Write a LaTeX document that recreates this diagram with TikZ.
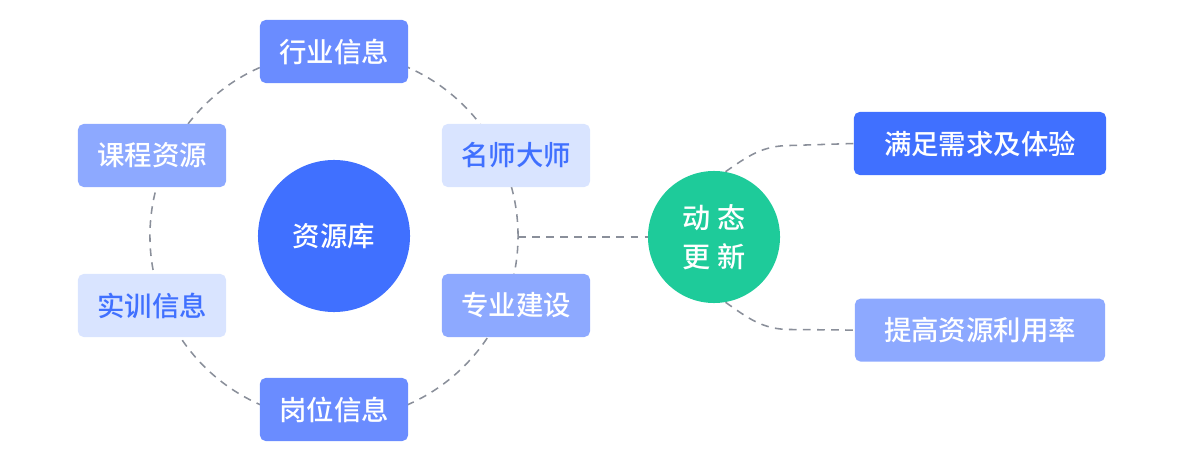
\documentclass[tikz,border=0pt]{standalone}
\usepackage{fontspec}
\setmainfont{Noto Sans CJK SC Medium}
\usetikzlibrary{positioning}
\definecolor{resBlue}{HTML}{4070FF}
\definecolor{resMain}{HTML}{6A8CFF}
\definecolor{resMid}{HTML}{8DA9FF}
\definecolor{resPale}{HTML}{D9E4FF}
\definecolor{resGreen}{HTML}{1ECB9A}
\definecolor{resLine}{HTML}{8A8F9A}

\begin{document}
\begin{tikzpicture}[
    x=0.025cm, y=-0.025cm,
    tag/.style={rectangle, rounded corners=4pt, minimum width=3.7cm,
                minimum height=1.575cm, inner sep=0pt, text=white,
                font=\fontsize{19.5}{23}\selectfont},
    tagmain/.style={tag, fill=resMain},
    tagmid/.style={tag, fill=resMid},
    tagpale/.style={tag, fill=resPale, text=resBlue},
    hubdot/.style={circle, fill=resBlue, text=white, minimum size=3.8cm,
                   inner sep=0pt, font=\fontsize{19.5}{23}\selectfont},
    dyndot/.style={circle, fill=resGreen, text=white, minimum size=3.3cm,
                   inner sep=0pt, align=center, font=\fontsize{20}{28}\selectfont},
    link/.style={draw=resLine, line width=1.1pt, dash pattern=on 5.5pt off 4.5pt},
  ]
    \useasboundingbox (0,0) rectangle (1184,472);

    % ring of resources
    \draw[link] (334,236) circle[radius=4.6cm];
    \node[hubdot] (hub) at (334,236) {资源库};

    \node[tagmain] (trade) at (334,51.5)  {行业信息};
    \node[tagmid]  (course) at (152,155.5) {课程资源};
    \node[tagpale] (master) at (516,155.5) {名师大师};
    \node[tagpale] (train) at (152,305.5) {实训信息};
    \node[tagmid]  (major) at (516,305.5) {专业建设};
    \node[tagmain] (post) at (334,409.5) {岗位信息};

    % dynamic update
    \node[dyndot] (dyn) at (714,237) {动\hspace{0.22em}态\\更\hspace{0.22em}新};
    \coordinate (ringE) at (518,237);
    \draw[link] (ringE) -- (dyn.west);

    \node[tag, fill=resBlue, minimum width=6.3cm] (need) at (980,143.5) {满足需求及体验};
    \node[tagmid, minimum width=6.25cm, below=3.075cm of need.south, anchor=north] (rate) {提高资源利用率};

    \coordinate (needIn) at (790,145.5);
    \coordinate (rateIn) at (790,329.5);
    \draw[link] (dyn.80) to[out=35,in=180] (needIn) -- (need.west);
    \draw[link] (dyn.-80) to[out=-35,in=180] (rateIn) -- (rate.west);
  \end{tikzpicture}
\end{document}
